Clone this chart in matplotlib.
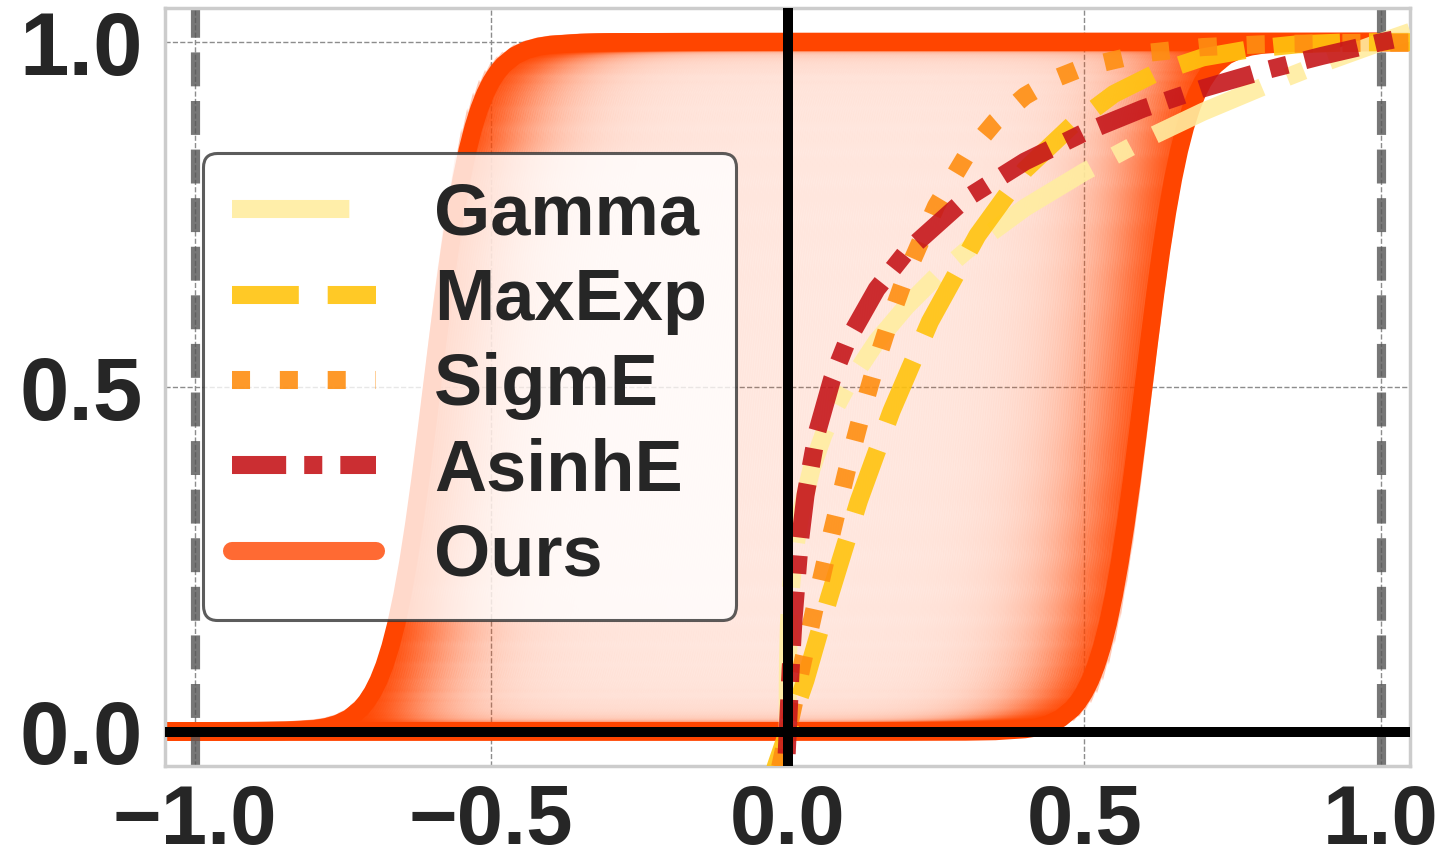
import matplotlib
matplotlib.use("Agg")
import matplotlib.pyplot as plt
import numpy as np
from matplotlib.colors import to_rgb
from matplotlib.lines import Line2D

plt.rcParams["font.family"] = ["Liberation Sans", "DejaVu Sans"]
plt.rcParams["font.weight"] = "bold"

# "Ours": sigmoid-shaped profile (offset from its centre -> value)
ours_dx = [-2.0, -0.40, -0.30, -0.25, -0.20, -0.18, -0.16, -0.14, -0.12, -0.11, -0.10,
           -0.09, -0.08, -0.07, -0.06, -0.05, -0.04, -0.03, -0.02, -0.01, 0.0,
           0.01, 0.02, 0.03, 0.04, 0.05, 0.06, 0.07, 0.08, 0.09, 0.10,
           0.11, 0.12, 0.14, 0.16, 0.18, 0.20, 0.25, 0.30, 0.40, 2.0]
ours_y = [0.0, 0.0, 0.0002, 0.0009, 0.0037, 0.0064, 0.0112, 0.0194, 0.0335, 0.0440, 0.0573,
          0.0745, 0.0962, 0.1235, 0.1570, 0.1978, 0.2460, 0.3015, 0.3635, 0.4304, 0.5,
          0.5696, 0.6365, 0.6985, 0.7540, 0.8022, 0.8430, 0.8765, 0.9038, 0.9255, 0.9427,
          0.9560, 0.9665, 0.9806, 0.9888, 0.9936, 0.9963, 0.9991, 0.9998, 1.0, 1.0]
ours_edges = [-0.60, 0.60]  # leftmost / rightmost centre of the band

gamma_x = [0.0, 0.0001, 0.0005, 0.002, 0.005, 0.01, 0.02, 0.04, 0.06, 0.08, 0.1, 0.15,
           0.2, 0.25, 0.3, 0.4, 0.5, 0.6, 0.7, 0.8, 0.9, 1.0, 1.05]
gamma_y = [0.0, 0.063, 0.102, 0.155, 0.204, 0.251, 0.309, 0.381, 0.430, 0.469, 0.501, 0.566,
           0.617, 0.660, 0.697, 0.760, 0.812, 0.858, 0.899, 0.935, 0.969, 1.0, 1.015]

maxexp_x = [-0.03, -0.02, 0.0, 0.03, 0.07, 0.12, 0.175, 0.24, 0.32, 0.40, 0.48, 0.55,
            0.62, 0.70, 0.78, 0.86, 0.95, 1.05]
maxexp_y = [-0.08, -0.05, 0.0, 0.075, 0.195, 0.335, 0.465, 0.595, 0.72, 0.815, 0.88, 0.925,
            0.955, 0.978, 0.99, 0.997, 1.0, 1.0]

sigme_x = [-0.03, -0.02, -0.01, 0.0, 0.025, 0.05, 0.075, 0.1, 0.125, 0.15, 0.175, 0.2,
           0.25, 0.3, 0.35, 0.4, 0.45, 0.5, 0.6, 0.7, 0.8, 0.9, 1.0, 1.05]
sigme_y = [-0.119, -0.080, -0.040, 0.0, 0.100, 0.197, 0.291, 0.380, 0.462, 0.537, 0.604, 0.664,
           0.762, 0.834, 0.885, 0.922, 0.947, 0.964, 0.984, 0.993, 0.997, 0.9985, 0.9993, 0.9995]

asinhe_x = [-0.02, -0.01, -0.005, 0.0, 0.005, 0.01, 0.02, 0.03, 0.05, 0.075, 0.1, 0.15,
            0.2, 0.3, 0.4, 0.5, 0.6, 0.7, 0.8, 0.9, 1.0, 1.05]
asinhe_y = [-0.272, -0.166, -0.091, 0.0, 0.091, 0.166, 0.272, 0.343, 0.436, 0.512, 0.566, 0.642,
            0.696, 0.773, 0.827, 0.869, 0.904, 0.933, 0.958, 0.980, 1.0, 1.009]

bound_x = [-1.0, 1.0]

OURS_C = "#FF4500"
LW = 6.5
DPI = 200
XLIM = (-1.05, 1.05)
YLIM = (-0.05, 1.05)

fig, ax = plt.subplots(figsize=(7.24, 4.305), dpi=DPI)
fig.subplots_adjust(left=0.114, right=0.974, top=0.991, bottom=0.110)
ax.set_xlim(*XLIM)
ax.set_ylim(*YLIM)

# shaded band: shifted copies of the profile, stronger near the two edges.
# Accumulated in float on a pixel grid (avoids 8-bit banding of hundreds of faint lines).
bb = ax.get_window_extent()
W, H = int(round(bb.width)), int(round(bb.height))
xs = np.linspace(XLIM[0], XLIM[1], W)
ys = np.linspace(YLIM[0], YLIM[1], H)
py = H / (YLIM[1] - YLIM[0])
ypix = (ys * py)[:, None]
half = LW * DPI / 72 / 2
shifts = np.linspace(ours_edges[0], ours_edges[1], 301)
dist = ours_edges[1] - np.abs(shifts)
alphas = 0.018 + 0.28 * np.exp(-dist / 0.065)
trans = np.ones((H, W))
for s, a in zip(shifts, alphas):
    yc = np.interp(xs - s, ours_dx, ours_y) * py
    norm = np.sqrt(1 + np.gradient(yc) ** 2)
    d = np.abs(ypix - yc[None, :]) / norm[None, :]
    trans *= 1 - a * np.clip(half + 0.5 - d, 0, 1)
band = np.zeros((H, W, 4))
band[..., :3] = to_rgb(OURS_C)
band[..., 3] = 1 - trans
ax.imshow(band, extent=(XLIM[0], XLIM[1], YLIM[0], YLIM[1]), origin="lower",
          aspect="auto", interpolation="nearest", zorder=2)
base_dx = np.array(ours_dx)
for s in ours_edges:
    ax.plot(base_dx + s, ours_y, color=OURS_C, lw=LW, zorder=2.1)

for bx in bound_x:
    ax.axvline(bx, color="#555555", alpha=0.8, lw=3.3, ls="--", zorder=2.5)

ax.plot(gamma_x, gamma_y, color="#FFEDA0", alpha=0.9, lw=LW,
        ls=(0, (6.5, 1.5, 1, 1.5)), zorder=3)
ax.plot(maxexp_x, maxexp_y, color="#FFC30E", alpha=0.9, lw=LW, ls="--", zorder=3.1)
ax.plot(sigme_x, sigme_y, color="#FE8E11", alpha=0.9, lw=LW, ls=":", zorder=3.2)
ax.plot(asinhe_x, asinhe_y, color="#C6171B", alpha=0.9, lw=LW,
        ls=(0, (3, 1, 1, 1)), zorder=3.3)

ax.axhline(0, color="black", lw=3.6, zorder=6)
ax.axvline(0, color="black", lw=3.6, zorder=6)

ax.set_xlim(*XLIM)
ax.set_ylim(*YLIM)
ax.set_xticks([-1.0, -0.5, 0.0, 0.5, 1.0])
ax.set_yticks([0.0, 0.5, 1.0])
ax.grid(True, ls="--", lw=0.5, color="0.55")
ax.set_axisbelow(True)
ax.tick_params(length=0, labelcolor="#262626")
ax.tick_params(axis="x", pad=6, labelsize=30)
ax.tick_params(axis="y", pad=8, labelsize=32)
for sp in ax.spines.values():
    sp.set_color("#cccccc")
    sp.set_linewidth(1.25)

handles = [
    Line2D([], [], color="#FFEDA0", alpha=0.9, lw=LW, ls=(0, (6.5, 1.5, 1, 1.5))),
    Line2D([], [], color="#FFC30E", alpha=0.9, lw=LW, ls="--"),
    Line2D([], [], color="#FE8E11", alpha=0.9, lw=LW, ls=":"),
    Line2D([], [], color="#C6171B", alpha=0.9, lw=LW, ls=(0, (3, 1, 1, 1))),
    Line2D([], [], color=OURS_C, alpha=0.8, lw=LW, solid_capstyle="round"),
]
labels = ["Gamma", "MaxExp", "SigmE", "AsinhE", "Ours"]
leg = ax.legend(handles, labels, loc="upper left", bbox_to_anchor=(0.0305, 0.809),
                borderaxespad=0, fontsize=26, labelspacing=0.24, handlelength=2.0,
                handletextpad=0.8, borderpad=0.4, framealpha=0.8, edgecolor="#333333",
                fancybox=True)
leg.get_frame().set_linewidth(1.1)
leg.set_zorder(7)
for t in leg.get_texts():
    t.set_color("#262626")

fig.savefig("out.png", dpi=DPI)
plt.close(fig)
